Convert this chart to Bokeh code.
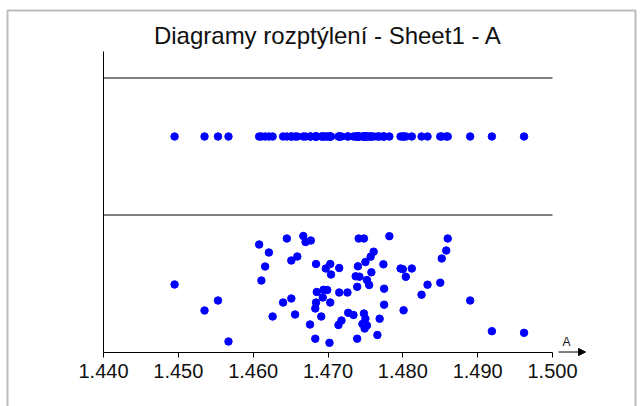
from bokeh.plotting import figure
from bokeh.models import (Range1d, FixedTicker, Label, Arrow, NormalHead,
                          BoxAnnotation, ColumnDataSource, LinearAxis)
from bokeh.embed import file_html
from bokeh.resources import INLINE

# Measured values of column A (Sheet1)
values = [
    1.4495, 1.4535, 1.4553, 1.4567, 1.4608, 1.4621, 1.4616, 1.4611, 1.4645, 1.4626,
    1.4640, 1.4651, 1.4656, 1.4651, 1.4659, 1.4667, 1.4670, 1.4677, 1.4676, 1.4684,
    1.4685, 1.4684, 1.4683, 1.4691, 1.4683, 1.4697, 1.4703, 1.4704, 1.4715, 1.4694,
    1.4699, 1.4715, 1.4726, 1.4693, 1.4703, 1.4727, 1.4734, 1.4748, 1.4750, 1.4718,
    1.4714, 1.4746, 1.4752, 1.4749, 1.4766, 1.4702, 1.4739, 1.4741, 1.4748, 1.4782,
    1.4860, 1.4858, 1.4852, 1.4761, 1.4757, 1.4750, 1.4740, 1.4758, 1.4774, 1.4797,
    1.4800, 1.4812, 1.4804, 1.4737, 1.4742, 1.4752, 1.4755, 1.4739, 1.4775, 1.4833,
    1.4850, 1.4825, 1.4775, 1.4801, 1.4769, 1.4890, 1.4919, 1.4962,
]

# Vertical scatter offsets used in the lower (jittered) strip
jitter = [
    68, 42, 52, 11, 108, 100, 86, 72, 114, 36,
    50, 54, 38, 92, 96, 116.5, 110.5, 112, 28, 88.5,
    60.5, 50, 44, 36, 13.8, 84, 88.5, 78, 84.5, 62.7,
    62.5, 60, 60, 55, 50, 39.7, 37.5, 39, 33.7, 32,
    27.5, 28.5, 27, 24, 17.5, 9.7, 13.8, 114, 114, 116.3,
    114, 102, 94, 100.8, 95.8, 90.5, 86.2, 80.2, 88.2, 84,
    83.3, 84, 75.7, 76.2, 75.8, 72.5, 67.5, 65.7, 63.8, 67.8,
    69.8, 57.8, 47.8, 42.2, 33.8, 52, 21.3, 19.7,
]

tick_values = [1.44, 1.45, 1.46, 1.47, 1.48, 1.49, 1.50]
tick_labels = ["1.440", "1.450", "1.460", "1.470", "1.480", "1.490", "1.500"]

title_text = "Diagramy rozptýlení - Sheet1 - A"
axis_name = "A"

FONT = "Liberation Sans"
BLUE = "#0000FF"
INK = "#111111"

X0, X1 = tick_values[0], tick_values[-1]
strip_level = 216      # height of the one-dimensional strip
upper_line = 274.5     # top boundary line
middle_line = 137.5    # line separating the strip from the jittered plot
y_top = 301            # top end of the vertical axis

# horizontal scale: 449 px for the 0.06 span, axis origin 103 px from the left
SCALE = 449 / (X1 - X0)
W, H = 640, 406
x_start = X0 - 103 / SCALE
x_end = X0 + (W - 103) / SCALE

p = figure(width=W, height=H,
           x_range=Range1d(x_start, x_end), y_range=Range1d(352 - H, 352),
           x_axis_location=None, y_axis_location=None,
           output_backend="svg", toolbar_location=None,
           min_border_left=0, min_border_right=0,
           min_border_top=0, min_border_bottom=0)

p.background_fill_color = "white"
p.border_fill_color = "white"
p.outline_line_color = None
p.xgrid.visible = False
p.ygrid.visible = False

# x axis crossing at y = 0
xa = LinearAxis(fixed_location=0, bounds=(X0, X1))
xa.ticker = FixedTicker(ticks=tick_values)
xa.major_label_overrides = {t: s for t, s in zip(tick_values, tick_labels)}
xa.axis_line_color = "black"
xa.axis_line_width = 1
xa.major_tick_line_color = "black"
xa.major_tick_in = 0
xa.major_tick_out = 5
xa.minor_tick_line_color = None
xa.major_label_text_font = FONT
xa.major_label_text_font_size = "20px"
xa.major_label_text_color = INK
xa.major_label_standoff = 6
p.add_layout(xa, "below")

# y axis: plain line only
ya = LinearAxis(fixed_location=X0, bounds=(0, y_top))
ya.ticker = FixedTicker(ticks=[])
ya.axis_line_color = "black"
ya.axis_line_width = 1
ya.major_tick_line_color = None
ya.minor_tick_line_color = None
ya.major_label_text_alpha = 0
p.add_layout(ya, "left")

# horizontal separators
p.segment(x0=[X0, X0], y0=[upper_line, middle_line],
          x1=[X1, X1], y1=[upper_line, middle_line],
          line_color="black", line_width=1)

src = ColumnDataSource(dict(x=values, y=jitter, s=[strip_level] * len(values)))
p.scatter("x", "s", source=src, size=7.5, color=BLUE, line_color=BLUE)
p.scatter("x", "y", source=src, size=7.5, color=BLUE, line_color=BLUE)

# axis direction arrow and name
p.add_layout(Arrow(x_start=X1 + 6 / SCALE, y_start=0.5, x_end=X1 + 33 / SCALE, y_end=0.5,
                   line_color="black", line_width=1,
                   end=NormalHead(size=7, fill_color="black", line_color="black")))
p.add_layout(Label(x=X1 + 14 / SCALE, y=11, text=axis_name, text_align="center",
                   text_baseline="alphabetic", text_font=FONT,
                   text_font_size="12px", text_color=INK))

# title
p.add_layout(Label(x=(X0 + X1) / 2, y=317, text=title_text, text_align="center",
                   text_baseline="alphabetic", text_font=FONT,
                   text_font_size="24px", text_color=INK))

# frame around the chart
p.add_layout(BoxAnnotation(left=X0 - 96 / SCALE, right=X0 + 532 / SCALE,
                           top=342, bottom=-80,
                           fill_alpha=0, line_color="#222222", line_width=2))

open("out.html", "w").write(file_html(p, INLINE))
